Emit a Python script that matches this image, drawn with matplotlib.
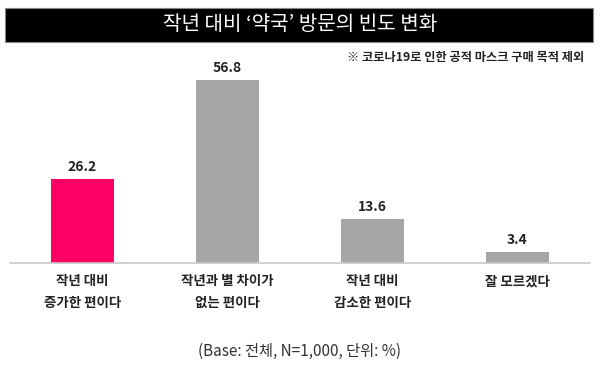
import numpy             as np
import matplotlib.pyplot as plt
from matplotlib.patches import Rectangle

plt.rcParams['font.family'] = ['Noto Sans CJK KR', 'DejaVu Sans']

categories = ['작년 대비\n증가한 편이다', '작년과 별 차이가\n없는 편이다', '작년 대비\n감소한 편이다', '잘 모르겠다']
values     = [26.2, 56.8, 13.6, 3.4]
colors     = ['#FF0066', '#A6A6A6', '#A6A6A6', '#A6A6A6']

title_text = '작년 대비 ‘약국’ 방문의 빈도 변화'
note_text  = '※ 코로나19로 인한 공적 마스크 구매 목적 제외'
base_text  = '(Base: 전체, N=1,000, 단위: %)'

fig = plt.figure(figsize = (6, 3.79), dpi = 100)
ax  = fig.add_axes([10/600, 1 - 263/379, 580/600, (263 - 70)/379])

x = np.arange(len(categories))
ax.bar(x, values, width = 0.43, color = colors)
ax.set_xlim(-0.5, len(categories) - 0.5)
ax.set_ylim(0, 60)

for xi, v in zip(x, values):
    ax.text(xi, v + 1.6, f'{v:.1f}', ha = 'center', va = 'bottom', fontsize = 10, fontweight = 'bold', color = '#222222')

for side in ['top', 'right', 'left']:
    ax.spines[side].set_visible(False)
ax.spines['bottom'].set_color('#C8C8C8')
ax.spines['bottom'].set_linewidth(1.2)
ax.set_yticks([])
ax.set_xticks(x)
ax.set_xticklabels(categories, fontsize = 9.7, fontweight = 'bold', color = '#222222', linespacing = 1.75)
ax.tick_params(axis = 'x', length = 0, pad = 8)

# title bar
fig.patches.append(Rectangle((5/600, 1 - 42/379), 588/600, 34/379, transform = fig.transFigure,
                             facecolor = 'black', edgecolor = '#888888', linewidth = 0.8))
fig.text(0.5, 1 - 25/379, title_text, ha = 'center', va = 'center', fontsize = 14.5, color = 'white')

fig.text(584/600, 1 - 57/379, note_text, ha = 'right', va = 'center', fontsize = 8.8, fontweight = 'bold', color = '#222222')
fig.text(0.5, 1 - 351/379, base_text, ha = 'center', va = 'center', fontsize = 11, color = '#333333')

fig.savefig('out.png', dpi = 100)
